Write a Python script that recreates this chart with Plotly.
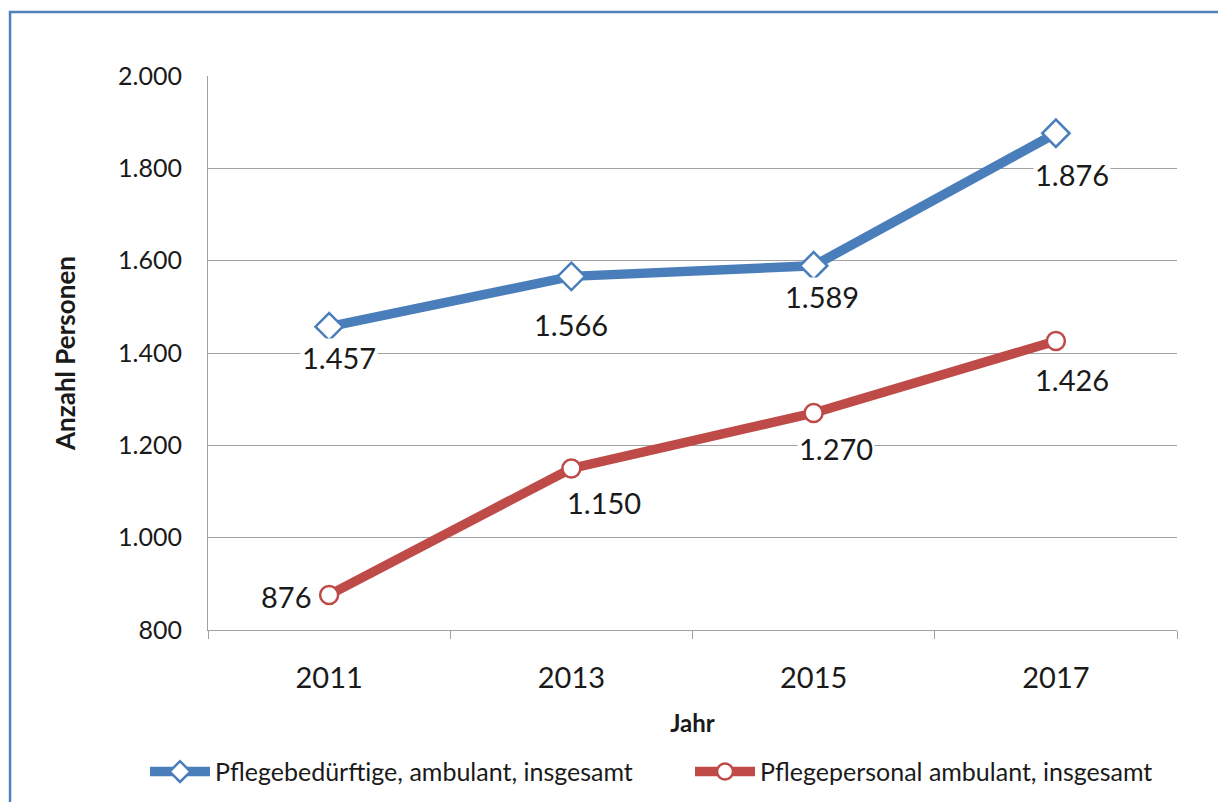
import plotly.graph_objects as go

years = ["2011", "2013", "2015", "2017"]
pflegebeduerftige = [1457, 1566, 1589, 1876]
pflegepersonal = [876, 1150, 1270, 1426]
series_names = ["Pflegebedürftige, ambulant, insgesamt", "Pflegepersonal ambulant, insgesamt"]
y_ticks = [800, 1000, 1200, 1400, 1600, 1800, 2000]

# label offsets (px) for data labels, style only
blue_offsets = [(10, -31), (0, -48), (8, -31), (16, -41)]
red_offsets = [(-43, -2), (33, -34), (22, -35), (16, -38)]

BLUE = "#4A7EBB"
RED = "#BE4B48"
FONT = "Lato"
TXT = "#1a1a1a"

def de(v):
    return f"{v:,}".replace(",", ".")

fig = go.Figure()
fig.add_trace(go.Scatter(
    x=years, y=pflegebeduerftige, name=series_names[0], mode="lines+markers",
    line=dict(color=BLUE, width=9.5),
    marker=dict(symbol="diamond", size=21, color="white", line=dict(color=BLUE, width=2.5)),
))
fig.add_trace(go.Scatter(
    x=years, y=pflegepersonal, name=series_names[1], mode="lines+markers",
    line=dict(color=RED, width=9.5),
    marker=dict(symbol="circle", size=18, color="white", line=dict(color=RED, width=2.5)),
))

annotations = []
for vals, offs in ((pflegebeduerftige, blue_offsets), (pflegepersonal, red_offsets)):
    for i, (v, (dx, dy)) in enumerate(zip(vals, offs)):
        annotations.append(dict(
            x=i, y=v, xref="x", yref="y", text=de(v), showarrow=False,
            xshift=dx, yshift=dy, bgcolor="white", borderpad=1,
            font=dict(family=FONT, size=29, color=TXT),
        ))

fig.update_layout(
    width=1218, height=794,
    margin=dict(l=200, r=49, t=68, b=172, autoexpand=False),
    paper_bgcolor="white", plot_bgcolor="white",
    separators=",.",
    showlegend=True,
    legend=dict(orientation="h", x=-0.065, xanchor="left", y=-0.256, yanchor="middle",
                font=dict(family=FONT, size=25, color=TXT), itemwidth=60, entrywidth=470,
                tracegroupgap=0, bgcolor="rgba(0,0,0,0)"),
    annotations=annotations,
    shapes=[dict(type="rect", xref="paper", yref="paper",
                 x0=-0.2043, x1=1.2, y0=-0.4, y1=1.1155,
                 line=dict(color="#4F81BD", width=2.5), fillcolor="rgba(0,0,0,0)", layer="below")],
)
fig.update_xaxes(
    type="category", range=[-0.5, 3.5], tickson="boundaries", ticks="outside", ticklen=8,
    tickcolor="#A0A0A0", showline=True, linecolor="#A0A0A0", linewidth=1, showgrid=False,
    tickfont=dict(family=FONT, size=29, color=TXT), ticklabelstandoff=22,
    title=dict(text="<b>Jahr</b>", font=dict(family=FONT, size=24, color=TXT), standoff=22),
    zeroline=False,
)
fig.update_yaxes(
    range=[800, 2000], tickvals=y_ticks, tickformat=",d", ticks="",
    showline=True, linecolor="#A0A0A0", linewidth=1,
    showgrid=True, gridcolor="#A0A0A0", gridwidth=1,
    tickfont=dict(family=FONT, size=25, color=TXT), ticklabelstandoff=20,
    title=dict(text="<b>Anzahl Personen</b>", font=dict(family=FONT, size=26, color=TXT), standoff=34),
    zeroline=False,
)
fig.write_html("out.html")
